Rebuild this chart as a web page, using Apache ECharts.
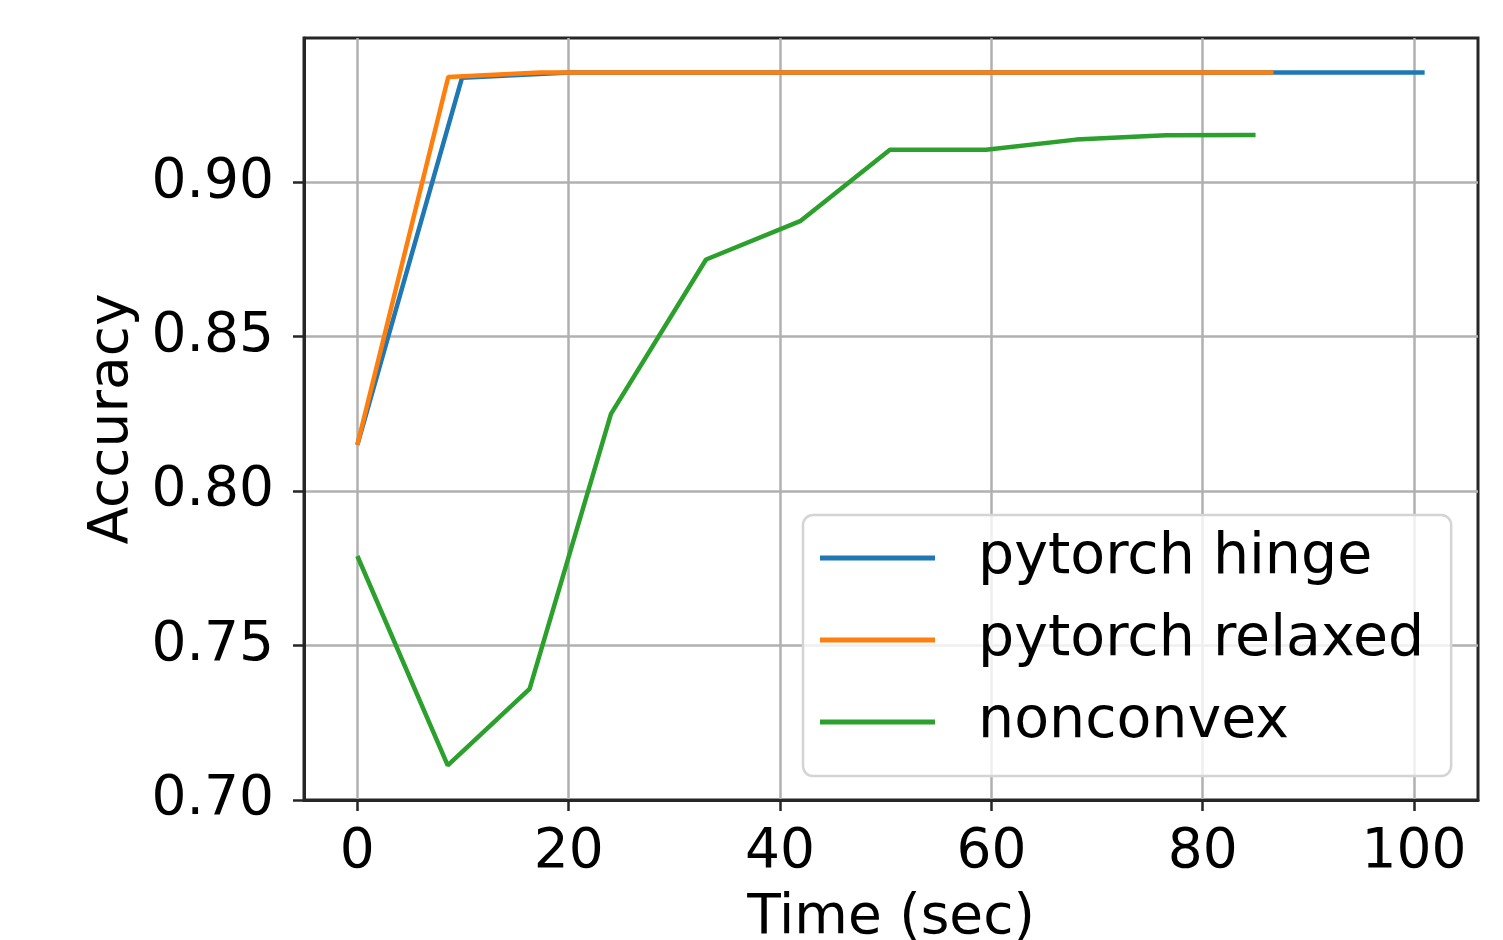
<!DOCTYPE html>
<html>
<head>
<meta charset="utf-8">
<script src="https://cdn.jsdelivr.net/npm/echarts@6/dist/echarts.min.js"></script>
<style>
  html, body { margin: 0; padding: 0; background: #fff; }
  #main { width: 1503px; height: 940px; }
</style>
</head>
<body>
<div id="main"></div>
<script>
// 数据
var names = ['pytorch hinge', 'pytorch relaxed', 'nonconvex'];
var colors = ['#1f77b4', '#ff7f0e', '#2ca02c'];

var hingeX = [0, 9.9, 20.1, 30.2, 40.3, 50.4, 60.5, 70.6, 80.7, 90.8, 101];
var hingeY = [0.815, 0.9338, 0.9355, 0.9355, 0.9355, 0.9355, 0.9355, 0.9355, 0.9355, 0.9355, 0.9355];

var relaxedX = [0, 8.6, 17.3, 26, 34.7, 43.3, 52, 60.7, 69.3, 78, 86.7];
var relaxedY = [0.815, 0.9341, 0.9355, 0.9355, 0.9355, 0.9355, 0.9355, 0.9355, 0.9355, 0.9355, 0.9355];

var nonconvexX = [0, 8.55, 16.3, 24.0, 33.0, 41.9, 50.4, 59.5, 68, 76.5, 85];
var nonconvexY = [0.779, 0.7112, 0.736, 0.825, 0.875, 0.8874, 0.9105, 0.9105, 0.9138, 0.9152, 0.9153];

var xTicks = [0, 20, 40, 60, 80, 100];
var yTicks = [0.70, 0.75, 0.80, 0.85, 0.90];

function pairs(xs, ys) {
  var out = [];
  for (var i = 0; i < xs.length; i++) out.push([xs[i], ys[i]]);
  return out;
}

var chart = echarts.init(document.getElementById('main'));
var font = 'DejaVu Sans';

function lineSeries(i, xs, ys) {
  return {
    name: names[i],
    type: 'line',
    data: pairs(xs, ys),
    showSymbol: false,
    symbol: 'none',
    lineStyle: { color: colors[i], width: 4.5 },
    itemStyle: { color: colors[i] },
    z: 3 + i,
    animation: false
  };
}

var option = {
  animation: false,
  grid: {
    left: 304, right: 25, top: 38, bottom: 140,
    outerBoundsMode: 'none',
    containLabel: false,
    show: true, borderColor: '#262626', borderWidth: 3
  },
  legend: {
    left: 803, top: 515,
    orient: 'vertical',
    icon: 'rect',
    itemWidth: 115, itemHeight: 5,
    itemGap: 22,
    padding: [13, 27, 24, 17],
    backgroundColor: 'rgba(255,255,255,0.8)',
    borderColor: '#d4d4d4', borderWidth: 2.5, borderRadius: 10,
    textStyle: { fontFamily: font, fontSize: 57, color: '#000', lineHeight: 60, padding: [0, 0, 0, 38] },
    data: names
  },
  xAxis: {
    type: 'value',
    min: -5.05, max: 106.05,
    name: 'Time (sec)',
    nameLocation: 'middle',
    nameGap: 91,
    nameTextStyle: { fontFamily: font, fontSize: 55, color: '#000', verticalAlign: 'top' },
    axisLine: { show: true, onZero: false, lineStyle: { color: '#262626', width: 3 } },
    axisTick: { show: true, customValues: xTicks, length: 11, lineStyle: { color: '#262626', width: 2.5 } },
    axisLabel: { customValues: xTicks, margin: 25, fontFamily: font, fontSize: 55, color: '#000' },
    splitLine: { show: true, lineStyle: { color: '#b0b0b0', width: 2.5 } }
  },
  yAxis: {
    type: 'value',
    min: 0.70, max: 0.9467,
    name: 'Accuracy',
    nameLocation: 'middle',
    nameRotate: 90,
    nameGap: 164,
    nameTextStyle: { fontFamily: font, fontSize: 55, color: '#000' },
    axisLine: { show: true, onZero: false, lineStyle: { color: '#262626', width: 3 } },
    axisTick: { show: true, customValues: yTicks, length: 11, lineStyle: { color: '#262626', width: 2.5 } },
    axisLabel: {
      customValues: yTicks, margin: 30, fontFamily: font, fontSize: 55, color: '#000',
      formatter: function (v) { return v.toFixed(2); }
    },
    splitLine: { show: true, lineStyle: { color: '#b0b0b0', width: 2.5 } }
  },
  series: [
    lineSeries(0, hingeX, hingeY),
    lineSeries(1, relaxedX, relaxedY),
    lineSeries(2, nonconvexX, nonconvexY)
  ]
};

chart.setOption(option);
</script>
</body>
</html>
